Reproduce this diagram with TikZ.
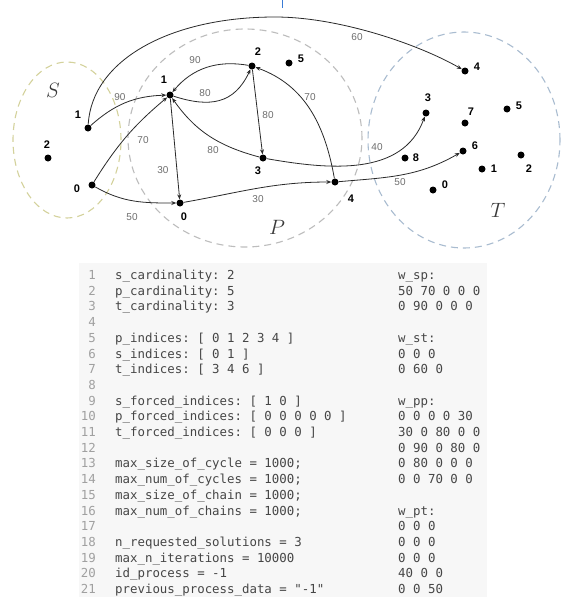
\documentclass[tikz,border=0pt]{standalone}
\usepackage{fontspec}
\setmonofont{DejaVu Sans Mono}
\newfontfamily\labfont{Liberation Sans}
\usetikzlibrary{arrows.meta}
\definecolor{codebg}{HTML}{F7F7F7}
\definecolor{codetext}{HTML}{464646}
\definecolor{numgray}{HTML}{A0A0A0}
\definecolor{labgray}{HTML}{6E6E6E}
\definecolor{edgecol}{HTML}{2A2A2A}
\definecolor{scol}{HTML}{D4D29C}
\definecolor{pcol}{HTML}{BDBDBD}
\definecolor{tcol}{HTML}{A9BCD0}
\definecolor{setletter}{HTML}{3A3A3A}
\definecolor{cursorblue}{HTML}{3A7BD5}
\begin{document}
\begin{tikzpicture}[x=1pt,y=1pt,
  dot/.style={circle,fill=black,inner sep=0pt,minimum size=7pt},
  nlab/.style={font=\labfont\bfseries\fontsize{11}{11}\selectfont,inner sep=0pt},
  elab/.style={font=\labfont\fontsize{10}{10}\selectfont,text=labgray,inner sep=0pt},
  edge/.style={draw=edgecol,line width=0.8pt,-{Stealth[length=5pt,width=4pt]}},
  setring/.style={dashed,dash pattern=on 7pt off 5pt,line width=1.1pt},
  setname/.style={font=\fontsize{22}{22}\selectfont,text=setletter,inner sep=0pt},
  codetxt/.style={font=\ttfamily\fontsize{12.4}{12.4}\selectfont,text=codetext,inner sep=0pt,anchor=base west},
  lnum/.style={font=\ttfamily\fontsize{12.4}{12.4}\selectfont,text=numgray,inner sep=0pt,anchor=base east}]
\useasboundingbox (0,0) rectangle (565,-608);
\fill[white] (0,0) rectangle (565,-608);

% cursor mark
\coordinate (cu1) at (282,0);
\coordinate (cu2) at (282,-8);
\draw[cursorblue,line width=1pt] (cu1) -- (cu2);

% set outlines
\draw[setring,draw=scol] (67,-140) ellipse [x radius=54,y radius=78];
\draw[setring,draw=pcol] (245,-138) ellipse [x radius=117,y radius=109];
\draw[setring,draw=tcol] (464,-140) ellipse [x radius=96,y radius=108];

\node[setname] (nameS) at (53,-90) {$S$};
\node[setname] (nameP) at (277,-227) {$P$};
\node[setname] (nameT) at (498,-210) {$T$};

% vertices
\node[dot] (s1) at (88,-128) {};
\node[dot] (s2) at (48,-158) {};
\node[dot] (s0) at (92,-185) {};
\node[dot] (p1) at (170,-95) {};
\node[dot] (p2) at (252,-66) {};
\node[dot] (p5) at (289,-63) {};
\node[dot] (p3) at (263,-158) {};
\node[dot] (p0) at (180,-203) {};
\node[dot] (p4) at (335,-182) {};
\node[dot] (t4) at (465,-71) {};
\node[dot] (t3) at (426,-113) {};
\node[dot] (t7) at (465,-123) {};
\node[dot] (t5) at (507,-109) {};
\node[dot] (t6) at (463,-151) {};
\node[dot] (t8) at (405,-158) {};
\node[dot] (t1) at (482,-169) {};
\node[dot] (t2) at (521,-155) {};
\node[dot] (t0) at (433,-190) {};

% vertex labels
\node[nlab] (ls1) at (78,-115) {1};
\node[nlab] (ls2) at (47,-145) {2};
\node[nlab] (ls0) at (77,-189) {0};
\node[nlab] (lp1) at (164,-80) {1};
\node[nlab] (lp2) at (258,-52) {2};
\node[nlab] (lp5) at (301,-59) {5};
\node[nlab] (lp3) at (258,-171) {3};
\node[nlab] (lp0) at (184,-217) {0};
\node[nlab] (lp4) at (351,-199) {4};
\node[nlab] (lt4) at (477,-67) {4};
\node[nlab] (lt3) at (428,-98) {3};
\node[nlab] (lt7) at (471,-112) {7};
\node[nlab] (lt5) at (519,-106) {5};
\node[nlab] (lt6) at (475,-146) {6};
\node[nlab] (lt8) at (416,-158) {8};
\node[nlab] (lt1) at (494,-169) {1};
\node[nlab] (lt2) at (529,-169) {2};
\node[nlab] (lt0) at (445,-185) {0};

% edges
\coordinate (apex) at (275,-17);
\draw[edge] (s1) .. controls (92,-60) and (170,-17) .. (apex)
            .. controls (340,-17) and (420,-45) .. (t4);
\draw[edge] (s1) to[bend left=20] (p1);
\draw[edge] (s0) to[out=58,in=220] (p1);
\draw[edge] (s0) to[out=-30,in=180] (p0);
\draw[edge] (p1) to[out=-18,in=-115,looseness=1.2] (p2);
\draw[edge] (p2) to[out=170,in=50] (p1);
\draw[edge] (p2) -- (p3);
\draw[edge] (p4) to[out=100,in=-20] (p2);
\draw[edge] (p3) to[out=165,in=-55] (p1);
\draw[edge] (p1) -- (p0);
\draw[edge] (p0) to[out=10,in=180] (p4);
\draw[edge] (p3) to[out=-10,in=-110] (t3);
\draw[edge] (p4) to[out=5,in=-150] (t6);

% edge labels
\node[elab] (w60) at (357,-37) {60};
\node[elab] (w90a) at (120,-97) {90};
\node[elab] (w70a) at (143,-140) {70};
\node[elab] (w50a) at (132,-217) {50};
\node[elab] (w80a) at (205,-93) {80};
\node[elab] (w90b) at (195,-60) {90};
\node[elab] (w80b) at (268,-115) {80};
\node[elab] (w70b) at (310,-97) {70};
\node[elab] (w80c) at (213,-150) {80};
\node[elab] (w30a) at (163,-170) {30};
\node[elab] (w30b) at (258,-199) {30};
\node[elab] (w40) at (377,-147) {40};
\node[elab] (w50b) at (400,-182) {50};

% code panel
\fill[codebg] (79,-263) rectangle (487,-597);
\foreach \n in {1,...,21} {
  \node[lnum] (ln\n) at (96,{-279.5-15.7*(\n-1)}) {\n};
}
\foreach \n/\t in {1/{s\_cardinality: 2},2/{p\_cardinality: 5},3/{t\_cardinality: 3},
  5/{p\_indices: [ 0 1 2 3 4 ]},6/{s\_indices: [ 0 1 ]},7/{t\_indices: [ 3 4 6 ]},
  9/{s\_forced\_indices: [ 1 0 ]},10/{p\_forced\_indices: [ 0 0 0 0 0 ]},11/{t\_forced\_indices: [ 0 0 0 ]},
  13/{max\_size\_of\_cycle = 1000;},14/{max\_num\_of\_cycles = 1000;},15/{max\_size\_of\_chain = 1000;},16/{max\_num\_of\_chains = 1000;},
  18/{n\_requested\_solutions = 3},19/{max\_n\_iterations = 10000},20/{id\_process = -1},21/{previous\_process\_data = "-1"}} {
  \node[codetxt] (lc\n) at (115,{-279.5-15.7*(\n-1)}) {\t};
}
\foreach \n/\t in {1/{w\_sp:},2/{50 70 0 0 0},3/{0 90 0 0 0},
  5/{w\_st:},6/{0 0 0},7/{0 60 0},
  9/{w\_pp:},10/{0 0 0 0 30},11/{30 0 80 0 0},12/{0 90 0 80 0},13/{0 80 0 0 0},14/{0 0 70 0 0},
  16/{w\_pt:},17/{0 0 0},18/{0 0 0},19/{0 0 0},20/{40 0 0},21/{0 0 50}} {
  \node[codetxt] (rc\n) at (398,{-279.5-15.7*(\n-1)}) {\t};
}
\end{tikzpicture}
\end{document}
